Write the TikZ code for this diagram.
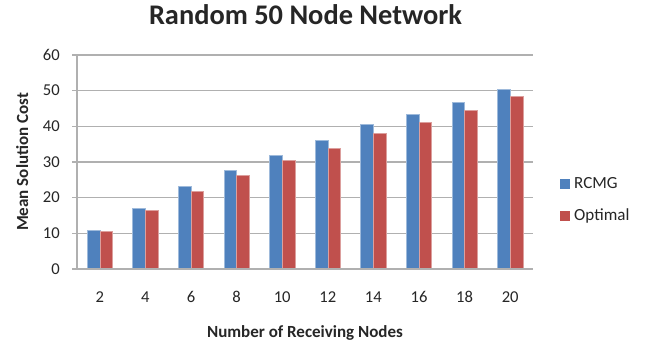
\documentclass[tikz,border=0pt]{standalone}
\usepackage{fontspec}
\setmainfont{Carlito}
\definecolor{rcmg}{HTML}{4F81BD}
\definecolor{optim}{HTML}{C0504D}
\definecolor{gridgray}{HTML}{B0B0B0}
\definecolor{txt}{HTML}{262626}
\begin{document}
\begin{tikzpicture}[x=1pt,y=1pt,
  gridline/.style={draw=gridgray, line width=1.2pt},
  ticklabel/.style={text=txt, inner sep=0pt, font=\fontsize{16.6}{20}\selectfont},
  axistitle/.style={text=txt, inner sep=0pt, font=\fontsize{17}{20}\selectfont\bfseries},
  charttitle/.style={text=txt, inner sep=0pt, font=\fontsize{28.4}{34}\selectfont\bfseries},
  legendtext/.style={text=txt, inner sep=0pt, font=\fontsize{17}{20}\selectfont},
  barA/.style={fill=rcmg, draw=rcmg!55!white, line width=0.5pt},
  barB/.style={fill=optim, draw=optim!55!white, line width=0.5pt}]
\useasboundingbox (0,0) rectangle (655,343);
\fill[white] (0,0) rectangle (655,343);

% plot area: x from 77 to 533, y = 0 at 74, 3.567 pt per unit
\def\ybase{74}
\def\yunit{3.567}

% horizontal gridlines, y-axis ticks and labels
\foreach \v in {0,10,...,60} {
  \draw[gridline] (72,\ybase+\v*\yunit) -- (533,\ybase+\v*\yunit);
  \node[ticklabel, anchor=east] (ylab\v) at (60,\ybase+\v*\yunit) {\v};
}
% vertical axis
\draw[gridline] (77,\ybase) -- (77,\ybase+60*\yunit);

% bars and category labels
\foreach \r/\o/\lab [count=\i from 0] in
  {11.0/10.7/2, 17.0/16.5/4, 23.2/21.9/6, 27.6/26.2/8, 32.0/30.4/10,
   36.0/33.8/12, 40.5/38.0/14, 43.5/41.1/16, 46.7/44.5/18, 50.5/48.5/20} {
  \pgfmathsetmacro\cx{77+45.6*(\i+0.5)}
  \path[barA] (\cx-12.7,\ybase) rectangle (\cx,\ybase+\r*\yunit);
  \path[barB] (\cx,\ybase) rectangle (\cx+12.7,\ybase+\o*\yunit);
  \node[ticklabel, anchor=base] (xlab\i) at (\cx,41) {\lab};
}
\draw[gridline] (77,\ybase) -- (533,\ybase);

% titles
\node[charttitle, anchor=base] (title) at (305.5,318) {Random 50 Node Network};
\node[axistitle, anchor=base] (xtitle) at (305,5.5) {Number of Receiving Nodes};
\node[axistitle, anchor=base, rotate=90] (ytitle) at (28,181) {Mean Solution Cost};

% legend
\fill[rcmg] (560,154) rectangle (570,164);
\node[legendtext, anchor=base west] (legA) at (574,155) {RCMG};
\fill[optim] (560,122.5) rectangle (570,132.5);
\node[legendtext, anchor=base west] (legB) at (574,123) {Optimal};
\end{tikzpicture}
\end{document}
